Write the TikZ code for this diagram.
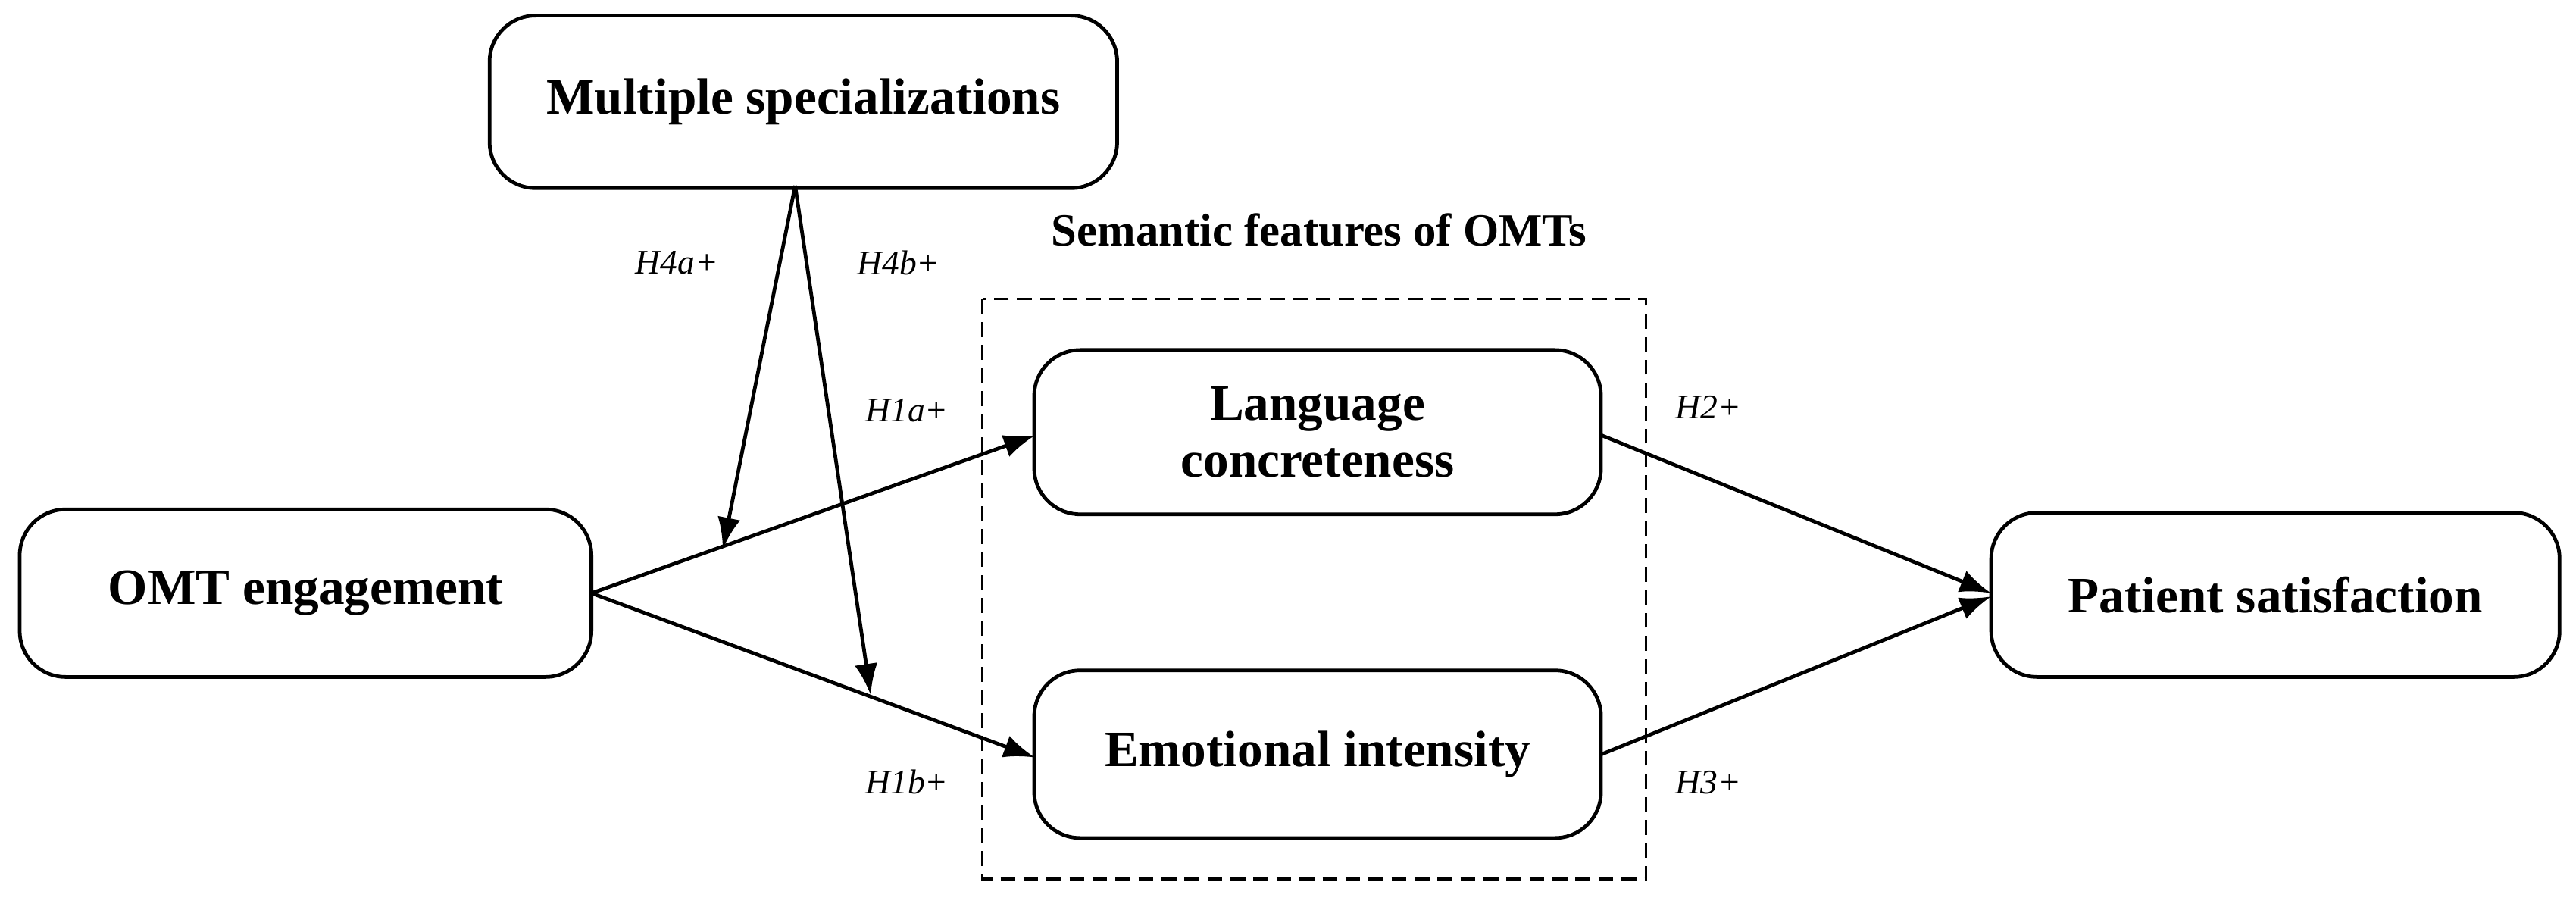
\documentclass[tikz,border=0pt]{standalone}
\usepackage{fontspec}
\setmainfont{Liberation Serif}
\usetikzlibrary{arrows.meta}
\begin{document}
\begin{tikzpicture}[x=1pt,y=-1pt,
  box/.style={draw,line width=2.2pt,rounded corners=28pt,font=\fontsize{31}{35}\selectfont\bfseries,align=center,inner sep=0pt},
  lab/.style={font=\fontsize{21}{25}\selectfont\itshape},
  arr/.style={line width=2.2pt,-{Latex[length=19pt,width=14pt]}}]
\useasboundingbox (0,0) rectangle (1568,550);
\node[box,minimum width=382pt,minimum height=105pt] (ms) at (489,62) {Multiple specializations};
\node[box,minimum width=348pt,minimum height=102pt] (omt) at (186,361) {OMT engagement};
\node[box,minimum width=345pt,minimum height=100pt] (lc) at (802,263) {Language\\concreteness};
\node[box,minimum width=345pt,minimum height=102pt] (ei) at (802,459) {Emotional intensity};
\node[box,minimum width=346pt,minimum height=100pt] (ps) at (1385,362) {Patient satisfaction};
\draw[line width=1.6pt,dash pattern=on 9pt off 5pt] (598,182) rectangle (1002,535);
\node[font=\fontsize{28}{32}\selectfont\bfseries] (sf) at (803,140) {Semantic features of OMTs};
\coordinate (o) at (360,361);
\coordinate (m) at (484,113);
\coordinate (t1) at (440,334);
\coordinate (t2) at (530,423);
\draw[arr] (o) -- (630,265);
\draw[arr] (o) -- (630,461);
\draw[arr] (975,265) -- (1212,361);
\draw[arr] (975,459) -- (1212,363);
\draw[arr] (m) -- (t1);
\draw[arr] (m) -- (t2);
\node[lab] (h4a) at (412,160) {H4a+};
\node[lab] (h4b) at (547,160) {H4b+};
\node[lab] (h1a) at (552,250) {H1a+};
\node[lab] (h1b) at (552,476) {H1b+};
\node[lab] (h2) at (1040,248) {H2+};
\node[lab] (h3) at (1040,476) {H3+};
\end{tikzpicture}
\end{document}
